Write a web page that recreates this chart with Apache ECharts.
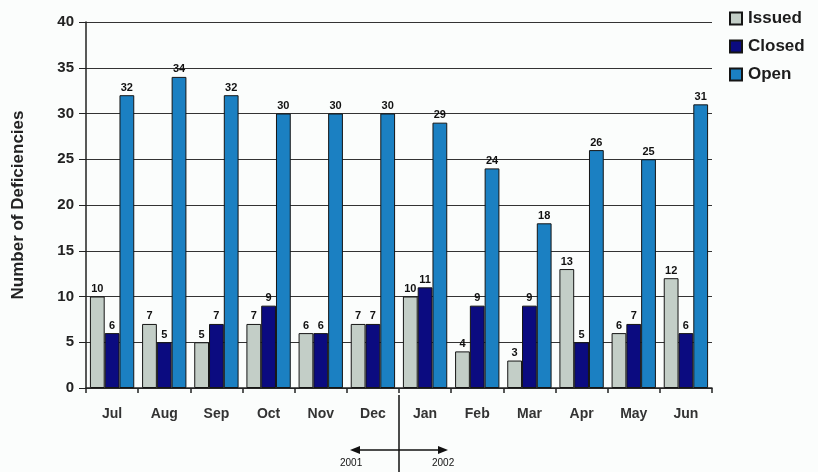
<!DOCTYPE html>
<html>
<head>
<meta charset="utf-8">
<script src="https://cdn.jsdelivr.net/npm/echarts@6/dist/echarts.min.js"></script>
<style>
  html, body { margin: 0; padding: 0; background: #fbfdfc; }
  #chart { width: 818px; height: 472px; }
</style>
</head>
<body>
<div id="chart"></div>
<script>
// Monthly deficiency counts, July 2001 – June 2002
const months = ['Jul', 'Aug', 'Sep', 'Oct', 'Nov', 'Dec', 'Jan', 'Feb', 'Mar', 'Apr', 'May', 'Jun'];
const issued = [10, 7, 5, 7, 6, 7, 10, 4, 3, 13, 6, 12];
const closed = [6, 5, 7, 9, 6, 7, 11, 9, 9, 5, 7, 6];
const open = [32, 34, 32, 30, 30, 30, 29, 24, 18, 26, 25, 31];
const yearLabels = ['2001', '2002'];

const font = 'Liberation Sans, Arial, sans-serif';
const chart = echarts.init(document.getElementById('chart'));

function barSeries(name, data, color) {
  return {
    name: name,
    type: 'bar',
    data: data,
    barGap: '0%',
    barCategoryGap: '15%',
    itemStyle: { color: color, borderColor: '#151515', borderWidth: 1 },
    label: {
      show: true,
      position: 'top',
      distance: 2,
      color: '#111',
      fontFamily: font,
      fontSize: 11,
      fontWeight: 'bold'
    }
  };
}

chart.setOption({
  backgroundColor: '#fbfdfc',
  animation: false,
  grid: { left: 86, right: 106, top: 22, bottom: 84 },
  legend: {
    orient: 'vertical',
    left: 724,
    top: 5,
    itemWidth: 12,
    itemHeight: 12,
    itemGap: 11,
    icon: 'rect',
    textStyle: { fontFamily: font, fontSize: 17, fontWeight: 'bold', color: '#1c1c1c', padding: [0, 0, 0, 1] },
    data: ['Issued', 'Closed', 'Open']
  },
  xAxis: {
    type: 'category',
    data: months,
    axisLine: { lineStyle: { color: '#222', width: 1.5 } },
    axisTick: { show: true, length: 5, lineStyle: { color: '#222', width: 1.5 } },
    axisLabel: { margin: 19, fontFamily: font, fontSize: 14, fontWeight: 'bold', color: '#333' }
  },
  yAxis: {
    type: 'value',
    min: 0,
    max: 40,
    interval: 5,
    name: 'Number of Deficiencies',
    nameLocation: 'middle',
    nameGap: 59,
    nameTextStyle: { fontFamily: font, fontSize: 17, fontWeight: 'bold', color: '#222' },
    axisLine: { show: true, lineStyle: { color: '#222', width: 1.5 } },
    axisTick: { show: true, length: 7, lineStyle: { color: '#222' } },
    axisLabel: { margin: 12, fontFamily: font, fontSize: 15, fontWeight: 'bold', color: '#222' },
    splitLine: { lineStyle: { color: '#333', width: 1 } }
  },
  series: [
    barSeries('Issued', issued, '#c3cec7'),
    barSeries('Closed', closed, '#0b0b80'),
    barSeries('Open', open, '#1b80c2')
  ]
});

// Year divider between Dec and Jan, with a two-way arrow below the axis
const xDec = chart.convertToPixel({ xAxisIndex: 0 }, 'Dec');
const xJan = chart.convertToPixel({ xAxisIndex: 0 }, 'Jan');
const xDiv = (xDec + xJan) / 2;
const yBase = chart.convertToPixel({ yAxisIndex: 0 }, 0);
const arrowY = yBase + 62;
const half = 49;

chart.setOption({
  graphic: [
    { type: 'line', shape: { x1: xDiv, y1: yBase + 7, x2: xDiv, y2: 472 }, style: { stroke: '#111', lineWidth: 1.5 } },
    { type: 'line', shape: { x1: xDiv - half + 8, y1: arrowY, x2: xDiv + half - 8, y2: arrowY }, style: { stroke: '#111', lineWidth: 1.5 } },
    { type: 'polygon', shape: { points: [[xDiv - half, arrowY], [xDiv - half + 10, arrowY - 4], [xDiv - half + 10, arrowY + 4]] }, style: { fill: '#111' } },
    { type: 'polygon', shape: { points: [[xDiv + half, arrowY], [xDiv + half - 10, arrowY - 4], [xDiv + half - 10, arrowY + 4]] }, style: { fill: '#111' } },
    { type: 'text', x: xDiv - 59, y: arrowY + 13, style: { text: yearLabels[0], fontFamily: font, fontSize: 10, fill: '#111', align: 'left', verticalAlign: 'middle' } },
    { type: 'text', x: xDiv + 33, y: arrowY + 13, style: { text: yearLabels[1], fontFamily: font, fontSize: 10, fill: '#111', align: 'left', verticalAlign: 'middle' } }
  ]
});
</script>
</body>
</html>
